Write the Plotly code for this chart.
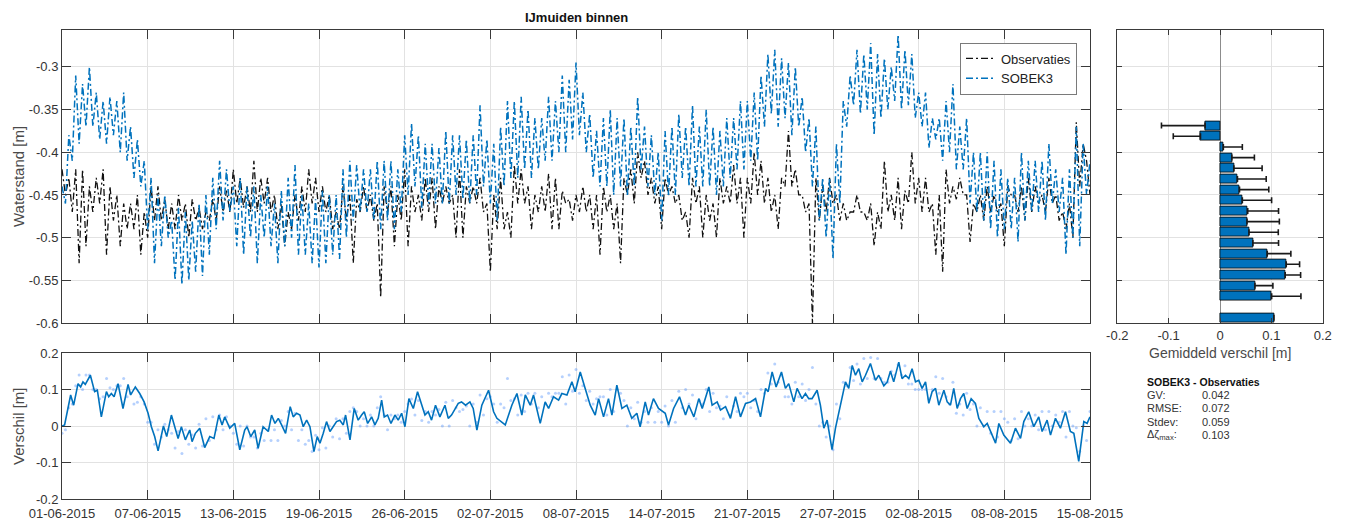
import numpy as np
import pandas as pd
import plotly.graph_objects as go

W, H = 1346, 521
START = pd.Timestamp("2015-06-01 00:00")
END = pd.Timestamp("2015-08-15 00:00")

# Waterstand [m], 6-hourly from 01-06-2015 00:00 (four values per day, last value 15-08 00:00)
waterstand_obs = [
    -0.42, -0.45, -0.43, -0.47,  -0.42, -0.53, -0.42, -0.51,  -0.44, -0.47, -0.43, -0.46,
    -0.42, -0.52, -0.44, -0.48,  -0.45, -0.51, -0.46, -0.49,  -0.46, -0.49, -0.45, -0.52,
    -0.47, -0.50, -0.44, -0.48,  -0.44, -0.48, -0.455, -0.49, -0.46, -0.49, -0.45, -0.48,
    -0.46, -0.50, -0.455, -0.48, -0.465, -0.49, -0.47, -0.48, -0.455, -0.48, -0.44, -0.47,
    -0.445, -0.47, -0.42, -0.46, -0.43, -0.465, -0.44, -0.47, -0.41, -0.47, -0.43, -0.46,
    -0.43, -0.47, -0.45, -0.49,  -0.46, -0.51, -0.47, -0.49,  -0.45, -0.48, -0.44, -0.47,
    -0.42, -0.46, -0.43, -0.47,  -0.44, -0.47, -0.45, -0.49,  -0.47, -0.49, -0.44, -0.48,
    -0.45, -0.53, -0.455, -0.47, -0.44, -0.47, -0.45, -0.48,  -0.46, -0.57, -0.44, -0.47,
    -0.44, -0.51, -0.45, -0.48,  -0.42, -0.51, -0.44, -0.47,  -0.45, -0.48, -0.43, -0.47,
    -0.43, -0.49, -0.44, -0.46,  -0.44, -0.46, -0.45, -0.50,  -0.42, -0.50, -0.44, -0.46,
    -0.44, -0.46, -0.43, -0.47,  -0.46, -0.54, -0.45, -0.49,  -0.43, -0.49, -0.47, -0.50,
    -0.415, -0.46, -0.42, -0.46, -0.44, -0.49, -0.45, -0.47,  -0.44, -0.47, -0.425, -0.49,
    -0.43, -0.49, -0.445, -0.46, -0.455, -0.48, -0.45, -0.47, -0.44, -0.47, -0.45, -0.49,
    -0.45, -0.52, -0.44, -0.47,  -0.45, -0.49, -0.46, -0.53,  -0.43, -0.45, -0.42, -0.46,
    -0.40, -0.43, -0.41, -0.45,  -0.43, -0.46, -0.44, -0.49,  -0.43, -0.45, -0.44, -0.46,
    -0.45, -0.48, -0.47, -0.50,  -0.43, -0.46, -0.44, -0.50,  -0.45, -0.48, -0.46, -0.50,
    -0.43, -0.46, -0.44, -0.46,  -0.415, -0.46, -0.43, -0.50, -0.43, -0.46, -0.40, -0.45,
    -0.41, -0.46, -0.43, -0.47,  -0.45, -0.49, -0.43, -0.44,  -0.375, -0.44, -0.42, -0.45,
    -0.45, -0.47, -0.46, -0.60,  -0.43, -0.48, -0.44, -0.47,  -0.43, -0.46, -0.45, -0.48,
    -0.46, -0.48, -0.47, -0.47,  -0.45, -0.47, -0.47, -0.48,  -0.46, -0.51, -0.47, -0.49,
    -0.41, -0.47, -0.45, -0.48,  -0.43, -0.49, -0.445, -0.46, -0.40, -0.46, -0.43, -0.47,
    -0.43, -0.47, -0.46, -0.52,  -0.45, -0.54, -0.42, -0.46,  -0.44, -0.455, -0.43, -0.45,
    -0.45, -0.505, -0.46, -0.47, -0.45, -0.48, -0.44, -0.47,  -0.45, -0.47, -0.46, -0.51,
    -0.44, -0.45, -0.45, -0.47,  -0.44, -0.48, -0.43, -0.47,  -0.44, -0.46, -0.45, -0.47,
    -0.43, -0.46, -0.45, -0.48,  -0.47, -0.49, -0.46, -0.50,  -0.365, -0.44, -0.39, -0.41,
    -0.45,
]

waterstand_sobek = [
    -0.44, -0.46, -0.38, -0.41,  -0.31, -0.39, -0.32, -0.37,  -0.30, -0.37, -0.33, -0.385,
    -0.34, -0.39, -0.335, -0.38, -0.34, -0.40, -0.33, -0.41,  -0.37, -0.43, -0.385, -0.44,
    -0.41, -0.49, -0.43, -0.53,  -0.45, -0.51, -0.45, -0.50,  -0.48, -0.55, -0.465, -0.555,
    -0.47, -0.55, -0.48, -0.54,  -0.46, -0.545, -0.45, -0.52, -0.43, -0.49, -0.41, -0.48,
    -0.42, -0.47, -0.44, -0.51,  -0.43, -0.52, -0.44, -0.50,  -0.44, -0.53, -0.45, -0.50,
    -0.44, -0.51, -0.46, -0.53,  -0.445, -0.51, -0.43, -0.50, -0.415, -0.52, -0.45, -0.52,
    -0.46, -0.53, -0.455, -0.535, -0.445, -0.53, -0.45, -0.52, -0.45, -0.525, -0.42, -0.50,
    -0.41, -0.48, -0.415, -0.47, -0.42, -0.47, -0.42, -0.48,  -0.41, -0.49, -0.41, -0.48,
    -0.41, -0.49, -0.42, -0.47,  -0.38, -0.45, -0.366, -0.44, -0.38, -0.465, -0.39, -0.46,
    -0.39, -0.46, -0.395, -0.46, -0.375, -0.46, -0.38, -0.45, -0.38, -0.455, -0.385, -0.46,
    -0.38, -0.45, -0.345, -0.44, -0.385, -0.46, -0.39, -0.48, -0.37, -0.44, -0.34, -0.43,
    -0.34, -0.43, -0.335, -0.42, -0.35, -0.43, -0.36, -0.42,  -0.36, -0.41, -0.335, -0.41,
    -0.34, -0.40, -0.31, -0.40,  -0.315, -0.385, -0.295, -0.38, -0.33, -0.40, -0.355, -0.43,
    -0.375, -0.44, -0.36, -0.44, -0.35, -0.45, -0.36, -0.44,  -0.36, -0.45, -0.37, -0.44,
    -0.335, -0.42, -0.37, -0.44, -0.38, -0.45, -0.40, -0.48,  -0.375, -0.45, -0.37, -0.45,
    -0.355, -0.43, -0.37, -0.44, -0.345, -0.44, -0.37, -0.44, -0.35, -0.44, -0.37, -0.45,
    -0.375, -0.44, -0.36, -0.43, -0.36, -0.42, -0.34, -0.42,  -0.34, -0.41, -0.33, -0.41,
    -0.31, -0.37, -0.285, -0.355, -0.28, -0.37, -0.29, -0.36, -0.295, -0.38, -0.30, -0.37,
    -0.335, -0.40, -0.36, -0.44, -0.37, -0.48, -0.43, -0.50,  -0.43, -0.525, -0.39, -0.46,
    -0.34, -0.37, -0.31, -0.345, -0.28, -0.355, -0.285, -0.35, -0.272, -0.38, -0.285, -0.36,
    -0.29, -0.35, -0.30, -0.34,  -0.262, -0.35, -0.28, -0.345, -0.285, -0.36, -0.33, -0.37,
    -0.33, -0.395, -0.36, -0.385, -0.36, -0.41, -0.34, -0.40, -0.32, -0.42, -0.37, -0.42,
    -0.36, -0.46, -0.40, -0.47,  -0.40, -0.48, -0.40, -0.49,  -0.41, -0.50, -0.42, -0.49,
    -0.43, -0.49, -0.43, -0.505, -0.40, -0.48, -0.41, -0.47,  -0.41, -0.47, -0.41, -0.48,
    -0.39, -0.46, -0.42, -0.47,  -0.43, -0.52, -0.42, -0.50,  -0.37, -0.51, -0.39, -0.45,
    -0.41,
]

# Smoothed difference SOBEK3 - observaties [m]: (days after 01-06-2015, value)
verschil_dag = [
    0.00, 0.19, 0.63, 0.85, 1.17, 1.36, 1.53, 1.70, 2.07, 2.38, 2.58, 2.87, 3.24, 3.41, 3.60,
    3.80, 4.09, 4.45, 4.82, 5.01, 5.35, 5.67, 5.99, 6.28, 6.52, 6.76, 7.01, 7.40, 7.64, 7.98,
    8.47, 8.71, 9.00, 9.32, 9.49, 9.73, 10.05, 10.41, 10.78, 11.09, 11.44, 11.68, 11.87, 12.24,
    12.60, 12.97, 13.33, 13.50, 13.77, 14.06, 14.31, 14.67, 15.05, 15.29, 15.54, 15.78, 16.02,
    16.31, 16.65, 16.87, 17.12, 17.36, 17.60, 17.85, 18.09, 18.38, 18.62, 18.82, 19.06, 19.30,
    19.55, 19.79, 20.03, 20.27, 20.52, 20.69, 21.01, 21.32, 21.61, 21.86, 22.05, 22.30, 22.59,
    22.83, 23.07, 23.32, 23.51, 23.75, 24.00, 24.29, 24.53, 24.78, 25.02, 25.31, 25.63, 25.94,
    26.24, 26.48, 26.72, 26.96, 27.25, 27.57, 27.94, 28.18, 28.42, 28.67, 28.91, 29.15, 29.44,
    29.76, 30.00, 30.27, 30.63, 31.12, 31.49, 31.73, 32.34, 32.82, 33.19, 33.55, 33.80, 34.16,
    34.40, 34.89, 35.25, 35.50, 35.86, 36.23, 36.47, 36.84, 37.20, 37.44, 37.81, 38.17, 38.54,
    38.90, 39.15, 39.51, 39.87, 40.12, 40.48, 40.85, 41.21, 41.57, 41.94, 42.18, 42.55, 42.79,
    43.15, 43.52, 44.01, 44.25, 44.62, 45.05, 45.25, 45.49, 45.73, 46.10, 46.46, 46.71, 47.19,
    47.43, 47.80, 48.04, 48.41, 48.77, 49.14, 49.50, 49.87, 50.23, 50.60, 50.96, 51.33, 51.52,
    51.81, 52.10, 52.49, 52.78, 53.02, 53.39, 53.63, 53.99, 54.24, 54.48, 54.72, 55.09, 55.33,
    55.58, 55.82, 56.18, 56.43, 56.67, 56.92, 57.16, 57.40, 57.65, 57.89, 58.13, 58.38, 58.62,
    58.98, 59.35, 59.59, 59.96, 60.20, 60.44, 60.68, 61.05, 61.29, 61.54, 61.78, 62.02, 62.27,
    62.51, 62.75, 63.00, 63.24, 63.48, 63.73, 63.97, 64.34, 64.58, 64.82, 65.06, 65.31, 65.55,
    65.79, 66.04, 66.33, 66.64, 66.89, 67.25, 67.50, 67.74, 68.11, 68.35, 68.71, 69.20, 69.56,
    69.93, 70.17, 70.53, 70.90, 71.26, 71.51, 71.87, 72.12, 72.48, 72.84, 73.21, 73.57, 73.82,
    74.18, 74.55, 74.79, 75.00,
]
verschil_glad = [
    0.000, 0.003, 0.085, 0.057, 0.116, 0.107, 0.121, 0.114, 0.139, 0.094, 0.098, 0.025, 0.094, 0.080, 0.089,
    0.080, 0.116, 0.048, 0.114, 0.085, 0.107, 0.089, 0.066, 0.035, -0.002, -0.029, -0.068, 0.000, -0.029, 0.030,
    -0.034, -0.002, -0.038, -0.011, -0.043, -0.020, -0.006, -0.059, -0.029, -0.034, 0.030, 0.003, 0.025, -0.006,
    0.007, -0.065, -0.011, -0.002, -0.029, -0.011, -0.061, -0.002, -0.015, 0.030, 0.007, 0.021, 0.003,
    -0.020, 0.053, 0.025, 0.035, 0.030, -0.002, 0.016, -0.002, -0.070, -0.029, -0.047, -0.020, 0.012,
    -0.015, -0.002, 0.012, 0.016, 0.003, 0.030, -0.038, 0.048, 0.016, 0.030, 0.039, 0.007, 0.025,
    0.003, 0.021, 0.071, 0.025, 0.030, 0.007, 0.030, 0.016, 0.035, -0.002, 0.075, 0.048, 0.094,
    0.057, 0.030, 0.039, 0.016, 0.057, 0.025, 0.057, 0.021, 0.030, 0.048, 0.062, 0.066, 0.057,
    0.066, 0.048, -0.011, 0.057, 0.098, 0.039, 0.021, 0.003, 0.057, 0.089, 0.030, 0.085, 0.057,
    0.085, 0.007, 0.066, 0.048, 0.080, 0.071, 0.089, 0.085, 0.121, 0.094, 0.148, 0.103, 0.057,
    0.030, 0.075, 0.025, 0.075, 0.030, 0.112, 0.048, 0.057, 0.021, 0.035, -0.002, 0.066, 0.030,
    0.075, 0.048, 0.035, 0.003, 0.048, 0.080, 0.057, 0.030, 0.057, 0.025, 0.075, 0.048, 0.107,
    0.057, 0.066, 0.044, 0.053, 0.021, 0.080, 0.025, 0.062, 0.066, 0.075, 0.025, 0.103, 0.094,
    0.148, 0.107, 0.148, 0.103, 0.116, 0.066, 0.103, 0.075, 0.089, 0.075, 0.075, 0.098, 0.057,
    -0.006, 0.016, -0.065, -0.006, 0.039, 0.085, 0.121, 0.103, 0.166, 0.139, 0.157, 0.121, 0.139,
    0.171, 0.125, 0.139, 0.110, 0.120, 0.150, 0.121, 0.175, 0.130, 0.139, 0.130, 0.157, 0.121,
    0.125, 0.103, 0.121, 0.062, 0.094, 0.103, 0.057, 0.098, 0.066, 0.057, 0.103, 0.048, 0.075,
    0.089, 0.048, 0.075, 0.062, 0.021, -0.002, 0.007, -0.015, -0.047, 0.007, -0.025, -0.047, -0.006,
    -0.034, 0.012, 0.039, -0.002, 0.025, -0.015, 0.016, -0.025, 0.021, -0.006, 0.039, -0.015, -0.020,
    -0.097, 0.012, 0.007, 0.025,
]

# Mean difference per water-level class (class centre [m], mean [m], stdev [m])
klasse_midden = [
    -0.59375, -0.56875, -0.55625, -0.54375, -0.53125, -0.51875, -0.50625, -0.49375, -0.48125,
    -0.46875, -0.45625, -0.44375, -0.43125, -0.41875, -0.40625, -0.39375, -0.38125, -0.36875,
]
gemiddeld_verschil = [
    0.105, 0.1006, 0.068, 0.127, 0.129, 0.092, 0.064, 0.0565, 0.0526,
    0.054, 0.0435, 0.038, 0.034, 0.027, 0.023, 0.0065, -0.038, -0.029,
]
stdev_verschil = [
    0.0, 0.057, 0.035, 0.030, 0.026, 0.046, 0.050, 0.057, 0.063,
    0.060, 0.057, 0.057, 0.056, 0.055, 0.044, 0.037, 0.053, 0.085,
]

statistiek_namen = ["GV:", "RMSE:", "Stdev:", "\u0394\u03b6<sub>max</sub>:"]
statistiek_waarden = ["0.042", "0.072", "0.059", "0.103"]

datum_ticks = [
    "2015-06-01 00:00", "2015-06-07 06:00", "2015-06-13 12:00", "2015-06-19 18:00",
    "2015-06-26 00:00", "2015-07-02 06:00", "2015-07-08 12:00", "2015-07-14 18:00",
    "2015-07-21 00:00", "2015-07-27 06:00", "2015-08-02 12:00", "2015-08-08 18:00",
    "2015-08-15 00:00",
]
datum_labels = [
    "01-06-2015", "07-06-2015", "13-06-2015", "19-06-2015", "26-06-2015", "02-07-2015",
    "08-07-2015", "14-07-2015", "21-07-2015", "27-07-2015", "02-08-2015", "08-08-2015",
    "15-08-2015",
]
waterstand_ticks = [-0.6, -0.55, -0.5, -0.45, -0.4, -0.35, -0.3]
waterstand_labels = ["-0.6", "-0.55", "-0.5", "-0.45", "-0.4", "-0.35", "-0.3"]
verschil_ticks = [-0.2, -0.1, 0.0, 0.1, 0.2]
verschil_labels = ["-0.2", "-0.1", "0", "0.1", "0.2"]

# ---------------------------------------------------------------------------
tijd = START + pd.to_timedelta(np.arange(len(waterstand_obs)) * 6, unit="h")
obs = np.array(waterstand_obs)
sobek = np.array(waterstand_sobek)
verschil_punten = sobek - obs
tijd_glad = START + pd.to_timedelta(np.array(verschil_dag), unit="D")

gem = np.array(gemiddeld_verschil)
sd = np.array(stdev_verschil)
err_plus = np.where(gem >= 0, sd, 0.0)
err_min = np.where(gem < 0, sd, 0.0)

BLUE = "#0072BD"
AXC = "#3a3a3a"
GRID = "#e2e2e2"
FONT = "Liberation Sans, Arial, sans-serif"
DASHDOT = "7px,3px,2px,3px"


def px(x):
    return x / W


def py(y):
    return 1 - y / H


fig = go.Figure()

fig.add_trace(go.Scatter(
    x=tijd, y=obs, mode="lines", name="Observaties",
    line=dict(color="#111111", width=1.3, dash=DASHDOT), xaxis="x", yaxis="y",
))
fig.add_trace(go.Scatter(
    x=tijd, y=sobek, mode="lines", name="SOBEK3",
    line=dict(color=BLUE, width=1.5, dash=DASHDOT), xaxis="x", yaxis="y",
))
fig.add_trace(go.Scatter(
    x=tijd, y=verschil_punten, mode="markers", showlegend=False,
    marker=dict(color="rgba(90,150,250,0.45)", size=3), xaxis="x2", yaxis="y2",
))
fig.add_trace(go.Scatter(
    x=tijd_glad, y=verschil_glad, mode="lines", showlegend=False,
    line=dict(color=BLUE, width=1.6), xaxis="x2", yaxis="y2",
))
fig.add_trace(go.Bar(
    x=gem, y=klasse_midden, orientation="h", width=0.0105, showlegend=False,
    marker=dict(color=BLUE, line=dict(color="#000000", width=0.8)),
    error_x=dict(type="data", symmetric=False, array=err_plus, arrayminus=err_min,
                 color="#1a1a1a", thickness=1.6, width=3),
    xaxis="x3", yaxis="y3",
))

axis_common = dict(
    showline=True, linecolor=AXC, linewidth=1, mirror="ticks", automargin=False,
    ticks="inside", tickcolor=AXC, showgrid=True, gridcolor=GRID, gridwidth=1,
    zeroline=False, tickfont=dict(family=FONT, size=13, color="#333333"),
)

main_x = [px(62), px(1090)]
fig.update_layout(
    width=W, height=H, margin=dict(l=0, r=0, t=0, b=0, autoexpand=False),
    paper_bgcolor="white", plot_bgcolor="white",
    font=dict(family=FONT, color="#333333"),
    bargap=0,
    xaxis=dict(axis_common, domain=main_x, anchor="y", type="date",
               range=[START, END], tickmode="array", tickvals=datum_ticks,
               showticklabels=False, ticklen=9),
    yaxis=dict(axis_common, domain=[py(323), py(29.5)], anchor="x",
               range=[-0.6, -0.2562], tickmode="array", tickvals=waterstand_ticks,
               ticktext=waterstand_labels, ticklen=9),
    xaxis2=dict(axis_common, domain=main_x, anchor="y2", type="date",
                range=[START, END], tickmode="array", tickvals=datum_ticks,
                ticktext=datum_labels, ticklen=9, ticklabelstandoff=2),
    yaxis2=dict(axis_common, domain=[py(499), py(353)], anchor="x2",
                range=[-0.2, 0.2], tickmode="array", tickvals=verschil_ticks,
                ticktext=verschil_labels, ticklen=9),
    xaxis3=dict(axis_common, domain=[px(1117.3), px(1322.7)], anchor="y3",
                range=[-0.2, 0.2], tickmode="array", tickvals=verschil_ticks,
                ticktext=verschil_labels, ticklen=5,
                zeroline=True, zerolinecolor="#8c8c8c", zerolinewidth=1),
    yaxis3=dict(axis_common, domain=[py(323), py(29.5)], anchor="x3",
                range=[-0.6, -0.2562], tickmode="array", tickvals=waterstand_ticks,
                showticklabels=False, ticklen=5),
    legend=dict(
        x=px(1077), y=py(42.5), xanchor="right", yanchor="top",
        bgcolor="white", bordercolor="#7a7a7a", borderwidth=1,
        font=dict(family=FONT, size=13, color="#222222"),
        itemwidth=30, tracegroupgap=0,
    ),
)

annotations = [
    dict(text="<b>IJmuiden binnen</b>", x=px(576), y=py(17), font=dict(size=13, color="#111111")),
    dict(text="Waterstand [m]", x=px(18), y=py(177), textangle=-90, font=dict(size=15, color="#4a4a4a")),
    dict(text="Verschil [m]", x=px(18), y=py(426), textangle=-90, font=dict(size=15, color="#4a4a4a")),
    dict(text="Gemiddeld verschil [m]", x=px(1220), y=py(353), font=dict(size=14, color="#4a4a4a")),
    dict(text="<b>SOBEK3 - Observaties</b>", x=px(1145), y=py(381.5), xanchor="left",
         font=dict(size=10.5, color="#111111")),
]
for i, (naam, waarde) in enumerate(zip(statistiek_namen, statistiek_waarden)):
    yy = 394.5 + i * 13.6
    annotations.append(dict(text=naam, x=px(1145), y=py(yy), xanchor="left",
                            font=dict(size=11, color="#333333")))
    annotations.append(dict(text=waarde, x=px(1200), y=py(yy), xanchor="left",
                            font=dict(size=11, color="#333333")))
for a in annotations:
    a.setdefault("xref", "paper")
    a.setdefault("yref", "paper")
    a.setdefault("showarrow", False)
    a.setdefault("xanchor", "center")
    a.setdefault("yanchor", "middle")
    a["font"]["family"] = FONT
fig.update_layout(annotations=annotations)

fig.write_html("out.html")
